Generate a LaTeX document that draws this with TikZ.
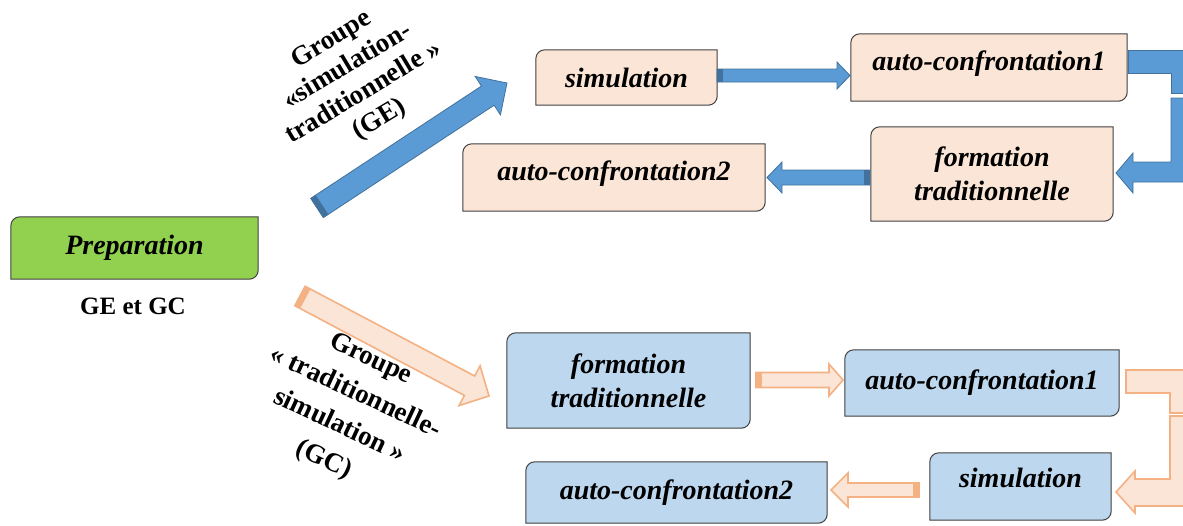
\documentclass[tikz,border=0pt]{standalone}
\usepackage{fontspec}
\setmainfont{Liberation Serif}
\usetikzlibrary{calc}
\pgfdeclarelayer{bg}
\pgfsetlayers{bg,main}
\definecolor{peach}{HTML}{FBE5D6}
\definecolor{lblue}{HTML}{BDD7EE}
\definecolor{pgreen}{HTML}{92D050}
\definecolor{abl}{HTML}{5B9BD5}
\definecolor{abldark}{HTML}{41719C}
\definecolor{aor}{HTML}{F4B183}
\definecolor{boxline}{HTML}{404040}
\tikzset{
  boxtext/.style={inner sep=0pt, align=center, text=black, font=\bfseries\itshape\fontsize{28}{34}\selectfont},
  raised/.style={text height=20pt, text depth=14pt},
  lbl/.style={inner sep=0pt, align=center, text=black, font=\bfseries\fontsize{27}{31}\selectfont},
  bluearrow/.style={fill=abl, draw=abldark, line width=0.8pt, line join=miter},
  bluestrip/.style={fill=abldark},
  orarrow/.style={fill=peach, draw=aor, line width=1.6pt, line join=miter},
  orstrip/.style={fill=aor},
}
\newcommand\rbox[2]{%
  \begin{pgfonlayer}{bg}
  \filldraw[fill=#2, draw=boxline, line width=1pt] (#1.west) [rounded corners=9pt] -- (#1.north west) -- (#1.north) [sharp corners] -- (#1.north east) -- (#1.east) [rounded corners=9pt] -- (#1.south east) -- (#1.south) [sharp corners] -- (#1.south west) -- cycle;
  \end{pgfonlayer}}
% #1 style, #2 tail, #3 tip, #4 shaft half, #5 head half, #6 head length, #7 strip style
\newcommand\fatarrow[7]{%
  \filldraw[#1] let \p1=(#2), \p2=(#3), \n1={atan2(\y2-\y1,\x2-\x1)}, \p3=($(#3)!#6!(#2)$) in
    ($(\p1)+({\n1+90}:#4)$) -- ($(\p3)+({\n1+90}:#4)$) -- ($(\p3)+({\n1+90}:#5)$) -- (\p2)
    -- ($(\p3)+({\n1-90}:#5)$) -- ($(\p3)+({\n1-90}:#4)$) -- ($(\p1)+({\n1-90}:#4)$) -- cycle;
  \fill[#7] let \p1=(#2), \p2=(#3), \n1={atan2(\y2-\y1,\x2-\x1)}, \p4=($(#2)!6pt!(#3)$) in
    ($(\p1)+({\n1+90}:#4)$) -- ($(\p4)+({\n1+90}:#4)$) -- ($(\p4)+({\n1-90}:#4)$) -- ($(\p1)+({\n1-90}:#4)$) -- cycle;
}
\begin{document}
\begin{tikzpicture}[x=1pt,y=-1pt]
\useasboundingbox (0,0) rectangle (1183,525);
\clip (0,0) rectangle (1183,525);

% preparation
\node[boxtext, minimum width=247pt, minimum height=62pt] (prep) at (134.5,248) {Preparation};
\rbox{prep}{pgreen}
\node[inner sep=0pt, font=\bfseries\fontsize{25}{30}\selectfont] (gegc) at (133,306) {GE et GC};

% top group
\node[boxtext, minimum width=181pt, minimum height=55pt] (s1) at (626.5,77.5) {simulation};
\node[boxtext, raised, minimum width=276pt, minimum height=67pt] (s2) at (989,67.5) {auto-confrontation1};
\node[boxtext, minimum width=242pt, minimum height=94pt] (s3) at (992,174) {formation\\traditionnelle};
\node[boxtext, raised, minimum width=302pt, minimum height=67pt] (s4) at (614,177.5) {auto-confrontation2};
\rbox{s1}{peach}\rbox{s2}{peach}\rbox{s3}{peach}\rbox{s4}{peach}

% bottom group
\node[boxtext, minimum width=243pt, minimum height=95pt] (t1) at (628.5,380.5) {formation\\traditionnelle};
\node[boxtext, minimum width=274pt, minimum height=66pt] (t2) at (982,383) {auto-confrontation1};
\node[boxtext, text height=20pt, text depth=18pt, minimum width=181pt, minimum height=67pt] (t3) at (1020.5,486.5) {simulation};
\node[boxtext, minimum width=301pt, minimum height=61pt] (t4) at (676.5,492.5) {auto-confrontation2};
\rbox{t1}{lblue}\rbox{t2}{lblue}\rbox{t3}{lblue}\rbox{t4}{lblue}

% labels
\node[lbl, rotate=31] (lge) at (356,80) {Groupe\\«simulation-\\traditionnelle »\\(GE)};
\node[lbl, rotate=-25, font=\bfseries\fontsize{27}{37}\selectfont] (lgc) at (347,410) {Groupe\\« traditionnelle-\\simulation »\\(GC)};

% arrow end points
\coordinate (ge0) at (317,208);  \coordinate (ge1) at (507,83);
\coordinate (gc0) at (300,296);  \coordinate (gc1) at (489,396);
\coordinate (a1s) at (717,75.5); \coordinate (a1e) at (850,75.5);
\coordinate (a2s) at (870,177.5); \coordinate (a2e) at (767,177.5);
\coordinate (b1s) at (756,380);  \coordinate (b1e) at (843,380);
\coordinate (b2s) at (919,490);  \coordinate (b2e) at (831,490);

\fatarrow{bluearrow}{ge0}{ge1}{11.5pt}{23pt}{23pt}{bluestrip}
\fatarrow{orarrow}{gc0}{gc1}{11pt}{22.5pt}{22pt}{orstrip}
\fatarrow{bluearrow}{a1s}{a1e}{6.5pt}{13.5pt}{13pt}{bluestrip}
\fatarrow{bluearrow}{a2s}{a2e}{7.5pt}{15.5pt}{15pt}{bluestrip}
\fatarrow{orarrow}{b1s}{b1e}{7.5pt}{16pt}{14pt}{orstrip}
\fatarrow{orarrow}{b2s}{b2e}{7pt}{17pt}{17pt}{orstrip}

% bent arrows (clipped at the right edge)
\filldraw[bluearrow] (1128,50) -- (1195,50) -- (1195,93) -- (1171,93) -- (1171,73) -- (1128,73) -- cycle;
\filldraw[bluearrow] (1171,98) -- (1195,98) -- (1195,182) -- (1133,182) -- (1133,193) -- (1116,173) -- (1133,153) -- (1133,162) -- (1171,162) -- cycle;
\filldraw[orarrow] (1126,370) -- (1195,370) -- (1195,413) -- (1170,413) -- (1170,393) -- (1126,393) -- cycle;
\filldraw[orarrow] (1170,416) -- (1195,416) -- (1195,506) -- (1135,506) -- (1135,513) -- (1116,492) -- (1135,471) -- (1135,479) -- (1170,479) -- cycle;
\end{tikzpicture}
\end{document}
